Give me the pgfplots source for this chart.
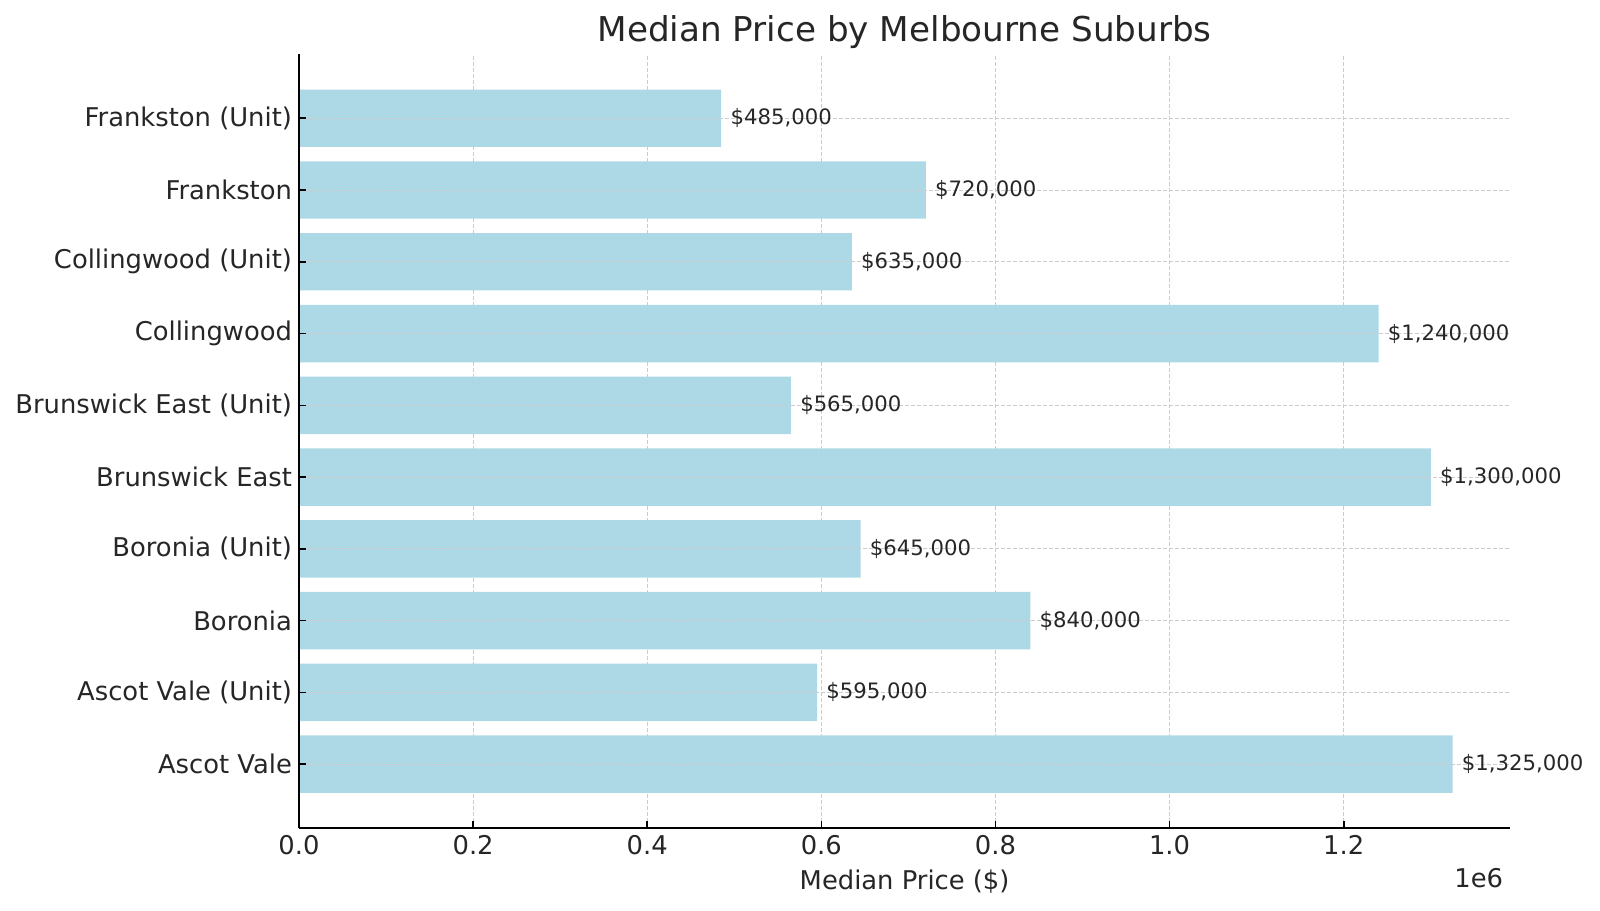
\documentclass[border=0pt]{standalone}
\usepackage{pgfplots}
\pgfplotsset{compat=1.18}
\usepackage{fontspec}
\setmainfont{DejaVu Sans}
\definecolor{barblue}{HTML}{ADD8E6}
\definecolor{txt}{HTML}{262626}
\definecolor{gridc}{HTML}{CCCCCC}
\begin{document}
\begin{tikzpicture}
\useasboundingbox (-149.5pt,-41pt) rectangle (650.5pt,414pt);
\begin{axis}[
 scale only axis, width=605.6pt, height=386.8pt,
 xbar, bar width=0.8,
 xmin=0, xmax=1391250, ymin=-0.89, ymax=9.89,
 axis x line*=bottom, axis y line*=left,
 axis line style={-, black, line width=1pt},
 ytick={0,1,2,3,4,5,6,7,8,9},
 yticklabels={Ascot Vale, Ascot Vale (Unit), Boronia, Boronia (Unit), Brunswick East, Brunswick East (Unit), Collingwood, Collingwood (Unit), Frankston, Frankston (Unit)},
 xtick={0,200000,400000,600000,800000,1000000,1200000},
 xticklabels={0.0,0.2,0.4,0.6,0.8,1.0,1.2},
 scaled x ticks=false,
 tick align=inside, major tick length=3.5pt,
 tick style={black, line width=0.8pt},
 ticklabel style={font=\fontsize{12.9}{15}\selectfont, text=txt},
 grid=major, major grid style={gridc, line width=0.5pt, dash pattern=on 2pt off 1pt},
 axis on top,
 nodes near coords, point meta=explicit symbolic,
 nodes near coords style={anchor=west, inner sep=0pt, xshift=4.5pt, font=\fontsize{10.6}{12}\selectfont, text=txt},
 clip=false,
]
\addplot[fill=barblue, draw=none] coordinates {
 (1325000,0) [\$1,325,000]
 (595000,1) [\$595,000]
 (840000,2) [\$840,000]
 (645000,3) [\$645,000]
 (1300000,4) [\$1,300,000]
 (565000,5) [\$565,000]
 (1240000,6) [\$1,240,000]
 (635000,7) [\$635,000]
 (720000,8) [\$720,000]
 (485000,9) [\$485,000]
};
\node[anchor=base, yshift=6.5pt, font=\fontsize{17.1}{20}\selectfont, text=txt] at (axis description cs:0.5,1) {Median Price by Melbourne Suburbs};
\node[anchor=base, yshift=-30.5pt, font=\fontsize{12.9}{15}\selectfont, text=txt] at (axis description cs:0.5,0) {Median Price (\$)};
\node[anchor=base east, yshift=-29.7pt, font=\fontsize{12.9}{15}\selectfont, text=txt] at (axis description cs:1,0) {1e6};
\end{axis}
\end{tikzpicture}
\end{document}
